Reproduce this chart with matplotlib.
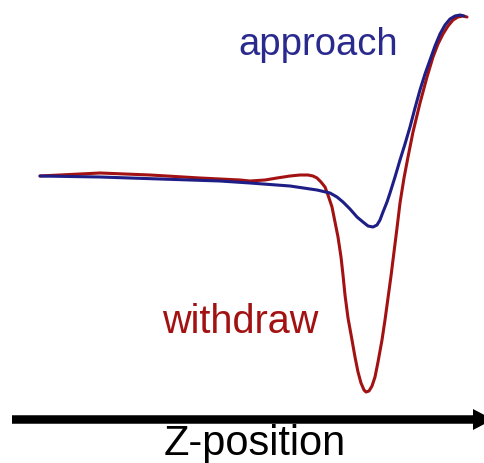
import matplotlib
matplotlib.use("Agg")
import matplotlib.pyplot as plt

# curve traces, in picture pixel units (x to the right, y downward)
approach_x = [40, 100, 160, 220, 250, 290, 317, 330, 337, 343, 350, 357, 363, 368, 373, 377,
              380, 383, 387, 390, 395, 400, 405, 410, 415, 420, 425, 430, 435, 440, 445, 450,
              455, 460, 464]
approach_y = [176, 177, 179, 181, 183, 186, 190, 193, 197, 202, 209, 217, 222, 226, 227, 225,
              220, 212, 202, 193, 177, 160, 144, 127, 108, 90, 74, 60, 46, 34, 25, 19,
              16, 15, 16]

withdraw_x = [40, 60, 100, 150, 200, 240, 250, 265, 277, 290, 300, 308, 313, 317, 321, 325, 328,
              332, 335, 338, 341, 343, 345, 348, 352, 355, 358, 361, 364, 366, 369, 372, 375,
              378, 382, 385, 388, 391, 393, 397, 400, 404, 408, 413, 420, 427, 433, 438, 443,
              448, 453, 458, 463, 467]
withdraw_y = [176, 175, 173, 175, 178, 180, 181, 180, 178, 176, 175, 175, 176, 178, 182, 187, 195,
              207, 222, 237, 257, 275, 295, 318, 340, 357, 372, 383, 390, 392, 391, 386, 377,
              362, 340, 320, 298, 276, 260, 228, 203, 178, 157, 132, 103, 77, 57, 44, 34,
              26, 20, 17, 16, 17]

blue = "#1e1e86"
red = "#a31212"

fig = plt.figure(figsize=(4.85, 4.63), dpi=100)
ax = fig.add_axes([0, 0, 1, 1])
ax.set_xlim(0, 485)
ax.set_ylim(463, 0)
ax.axis("off")

ax.plot(approach_x, approach_y, color=blue, lw=2.2, solid_joinstyle="round",
        solid_capstyle="round", zorder=3)
ax.plot(withdraw_x, withdraw_y, color=red, lw=2.2, solid_joinstyle="round",
        solid_capstyle="round", zorder=2)

# z axis arrow
ax.arrow(12, 419.5, 481, 0, width=8.5, head_width=21, head_length=20,
         length_includes_head=True, color="black", lw=0)

font = "Liberation Sans"
ax.text(238, 55, "approach", color="#2a2a8e", fontsize=27.5, family=font, va="baseline")
ax.text(162, 333, "withdraw", color=red, fontsize=28.5, family=font, va="baseline")
ax.text(164, 455, "Z-position", color="black", fontsize=30, family=font, va="baseline")

plt.savefig("out.png", dpi=100)
